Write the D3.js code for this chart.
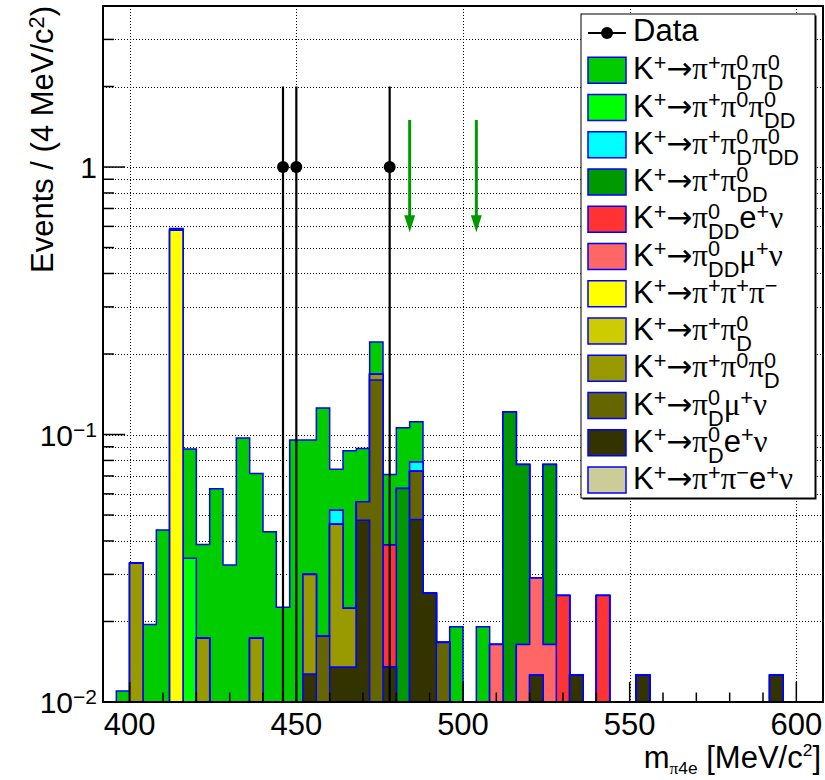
<!DOCTYPE html>
<html><head><meta charset="utf-8">
<script src="https://cdn.jsdelivr.net/npm/d3@7"></script>
<style>body{margin:0;background:#fff}svg{display:block}text{white-space:pre}</style>
</head><body>
<svg id="c" width="825" height="780"></svg>
<script>
// ---------- data ----------
const binWidth = 4;
const xMin = 392, xMax = 608;
const yMin = 0.01, yMax = 4;
const binLow = d3.range(xMin, xMax, binWidth);

// per-component contributions (bin lower edge [MeV/c2], events)
const pipi0Dpi0D  = [[396,0.011],[404,0.0195],[408,0.044],[412,0.009],[416,0.0538],[420,0.0215],[424,0.0627],[428,0.0325],[432,0.0971],[436,0.0542],[440,0.0433],[444,0.0226],[448,0.0953],[452,0.0653],[456,0.108],[460,0.0221],[464,0.0645],[468,0.0327],[472,0.054],[476,0.0323],[480,0.043],[484,0.0325],[496,0.0191],[504,0.0191]];
const pipi0pi0DD  = [[416,0.0345]];
const pipi0Dpi0DD = [[460,0.0059],[484,0.0061]];
const pipi0DD     = [[480,0.0629],[512,0.1215],[516,0.0608],[524,0.0608]];
const pi0DDenu    = [[476,0.0251],[528,0.025],[540,0.025]];
const pi0DDmunu   = [[508,0.0164],[516,0.0164],[520,0.0165],[524,0.0164]];
const pipipi      = [[412,0.58]];
const pipi0D      = [];
const pipi0pi0D   = [[400,0.033],[420,0.0173],[436,0.0173],[452,0.0173],[460,0.0327],[464,0.0089],[472,0.008]];
const pi0Dmunu    = [[456,0.0176],[468,0.0082],[472,0.160],[484,0.0248],[492,0.0167]];
const pi0Denu     = [[452,0.0127],[460,0.0135],[464,0.0135],[468,0.0478],[476,0.0135],[484,0.0481],[488,0.0255],[520,0.0126],[532,0.0126],[552,0.0126],[592,0.0126]];
const pipienu     = [];

// legend order (top to bottom)
const legendLabels = [
  "K^{+}→π^{+}π^{0}_{D}π^{0}_{D}",
  "K^{+}→π^{+}π^{0}π^{0}_{DD}",
  "K^{+}→π^{+}π^{0}_{D}π^{0}_{DD}",
  "K^{+}→π^{+}π^{0}_{DD}",
  "K^{+}→π^{0}_{DD}e^{+}ν",
  "K^{+}→π^{0}_{DD}μ^{+}ν",
  "K^{+}→π^{+}π^{+}π^{−}",
  "K^{+}→π^{+}π^{0}_{D}",
  "K^{+}→π^{+}π^{0}π^{0}_{D}",
  "K^{+}→π^{0}_{D}μ^{+}ν",
  "K^{+}→π^{0}_{D}e^{+}ν",
  "K^{+}→π^{+}π^{−}e^{+}ν"
];
const legendColors = ["#00cc00","#00ff00","#00ffff","#009900","#ff3333","#ff6666","#ffff00","#cccc00","#999900","#666600","#333300","#cccc99"];
const legendSeries = [pipi0Dpi0D,pipi0pi0DD,pipi0Dpi0DD,pipi0DD,pi0DDenu,pi0DDmunu,pipipi,pipi0D,pipi0pi0D,pi0Dmunu,pi0Denu,pipienu];

// data points
const dataX = [446, 450, 478];
const dataY = [1, 1, 1];
const dataErr = [1, 1, 1];

// cut arrows
const arrowX = [484, 504];
const arrowFrom = 1.5, arrowTo = 0.57;

const xTicksMajor = [400,450,500,550,600];
const xTitle = "m_{π4e} [MeV/c^{2}]";
const yTitle = "Events / (4 MeV/c^{2})";

// ---------- drawing ----------
const SANS = "'Liberation Sans', Arial, Helvetica, sans-serif";
const SERIF = "'Liberation Serif', 'Times New Roman', serif";
const ARROWF = "'DejaVu Sans', sans-serif";
const svg = d3.select("#c");
const L = 103, R = 823, T = 6, B = 702;
const x = d3.scaleLinear().domain([xMin, xMax]).range([L, R]);
const y = d3.scaleLog().domain([yMin, yMax]).range([B, T]).clamp(true);
const yv = v => v > 0 ? y(v) : B;
const crisp = v => Math.round(v) + 0.5;

svg.append("defs").append("clipPath").attr("id","clip")
  .append("rect").attr("x",L).attr("y",T).attr("width",R-L).attr("height",B-T);

// gridlines
const grid = svg.append("g").attr("stroke","#000").attr("stroke-width",1).attr("stroke-dasharray","1,2");
const yGridVals = [];
[0.01,0.1,1].forEach(d => { for (let k=1;k<=9;k++){ const v=d*k; if (v>yMin*1.0001 && v<=yMax*1.0001) yGridVals.push(v);} });
yGridVals.forEach(v => grid.append("line").attr("x1",L).attr("x2",R).attr("y1",crisp(y(v))).attr("y2",crisp(y(v))));
xTicksMajor.forEach(v => grid.append("line").attr("x1",crisp(x(v))).attr("x2",crisp(x(v))).attr("y1",T).attr("y2",B));

// stacked histograms
const stackOrder = legendLabels.map((l,i)=>i).reverse(); // bottom -> top
const rows = binLow.map(b => {
  const r = {bin:b};
  legendSeries.forEach((s,i) => { const f = s.find(p => p[0]===b); r["s"+i] = f ? f[1] : 0; });
  return r;
});
const stacked = d3.stack().keys(stackOrder.map(i=>"s"+i))(rows);
const hg = svg.append("g").attr("clip-path","url(#clip)");
for (let li = stacked.length-1; li >= 0; li--) {
  const layer = stacked[li];
  const idx = +layer.key.slice(1);
  const tops = layer.map(d => d[1]);
  const first = tops.findIndex(v => v > 0);
  if (first < 0) continue;
  let p = `M${x(binLow[first])},${B}`;
  for (let i = first; i < binLow.length; i++) {
    const yy = yv(tops[i]);
    p += `L${x(binLow[i])},${yy}L${x(binLow[i]+binWidth)},${yy}`;
  }
  p += `L${x(xMax)},${B}Z`;
  hg.append("path").attr("d",p).attr("fill",legendColors[idx]).attr("stroke","#0000ff").attr("stroke-width",1.5).attr("stroke-linejoin","miter");
}

// frame
svg.append("rect").attr("x",L).attr("y",T).attr("width",R-L).attr("height",B-T).attr("fill","none").attr("stroke","#000").attr("stroke-width",2);

// ticks
const tk = svg.append("g").attr("stroke","#000").attr("stroke-width",1.5);
d3.range(400, 601, 10).forEach(v => {
  const major = v % 50 === 0;
  tk.append("line").attr("x1",x(v)).attr("x2",x(v)).attr("y1",B).attr("y2",B-(major?20:9.5));
});
[0.01,0.1,1].forEach(d => { for (let k=1;k<=9;k++){ const v=d*k; if (v<yMin*0.999||v>yMax*1.0001) continue;
  tk.append("line").attr("x1",L).attr("x2",L+(k===1?22:11)).attr("y1",y(v)).attr("y2",y(v)); } });

// latex-ish text renderer
const fontOf = c => "πμν".includes(c) ? SERIF : (c === "→" ? ARROWF : SANS);
function run(g, txt, x0, y0, size) {
  let xx = x0; let buf = ""; let fam = null;
  const flush = () => {
    if (!buf) return;
    const el = g.append("text").attr("x",xx).attr("y",y0).attr("font-size",size)
      .attr("xml:space","preserve").attr("font-family", fam).attr("fill","#000").text(buf);
    xx += el.node().getComputedTextLength(); buf = "";
  };
  for (const c of txt) {
    const f = fontOf(c);
    if (fam !== null && f !== fam) flush();
    fam = f; buf += c;
  }
  flush();
  return xx - x0;
}
function latex(parent, str, fs, o = {}) {
  const sc = o.scale || 0.7, up = o.up || 0.30, dn = o.dn || 0.36;
  const g = parent.append("g");
  const toks = []; let i = 0;
  const chars = Array.from(str);
  while (i < chars.length) {
    const c = chars[i];
    if ((c==='^'||c==='_') && chars[i+1]==='{') {
      let j = i+2; let content = "";
      while (chars[j] !== '}') { content += chars[j]; j++; }
      toks[toks.length-1][c==='^'?'sup':'sub'] = content;
      i = j+1; continue;
    }
    const prev = toks[toks.length-1];
    if (prev && prev.sup===undefined && prev.sub===undefined) prev.t += c; else toks.push({t:c});
    i++;
  }
  let xx = 0;
  for (const t of toks) {
    xx += run(g, t.t, xx, 0, fs);
    let w = 0;
    if (t.sup !== undefined) w = Math.max(w, run(g, t.sup, xx, -fs*up, fs*sc));
    if (t.sub !== undefined) w = Math.max(w, run(g, t.sub, xx, fs*dn, fs*sc));
    xx += w;
  }
  return {g, w: xx};
}

// x tick labels
xTicksMajor.forEach(v => {
  svg.append("text").attr("x",x(v)).attr("y",735).attr("text-anchor","middle")
    .attr("font-family",SANS).attr("font-size",31).text(v);
});
// y tick labels
[[1,"1"],[0.1,"10^{−1}"],[0.01,"10^{−2}"]].forEach(([v,s]) => {
  const r = latex(svg, s, 30);
  r.g.attr("transform",`translate(${97-r.w},${y(v)+11})`);
});
// axis titles
{ const r = latex(svg, xTitle, 31, {scale:0.56, up:0.38, dn:0.22}); r.g.attr("transform",`translate(${821-r.w},767.5)`); }
{ const r = latex(svg, yTitle, 31); r.g.attr("transform",`translate(53,${T+r.w}) rotate(-90)`); }

// data points
const dg = svg.append("g").attr("clip-path","url(#clip)");
dataX.forEach((dx,i) => {
  const cx = x(dx);
  dg.append("line").attr("x1",cx).attr("x2",cx).attr("y1",yv(dataY[i]+dataErr[i])).attr("y2",yv(dataY[i]-dataErr[i]))
    .attr("stroke","#000").attr("stroke-width",2.2);
  dg.append("circle").attr("cx",cx).attr("cy",y(dataY[i])).attr("r",6).attr("fill","#000");
});

// arrows
arrowX.forEach(ax => {
  const cx = x(ax), y0 = y(arrowFrom), y1 = y(arrowTo);
  svg.append("line").attr("x1",cx).attr("x2",cx).attr("y1",y0).attr("y2",y1-14)
    .attr("stroke","#009900").attr("stroke-width",3);
  svg.append("path").attr("d",`M${cx-5.5},${y1-17}L${cx+5.5},${y1-17}L${cx},${y1}Z`).attr("fill","#009900");
});

// legend
const lg = svg.append("g");
const LX = 581, LY = 14, LW = 234, LH = 484;
lg.append("rect").attr("x",LX+1.5).attr("y",LY+1.5).attr("width",LW).attr("height",LH).attr("fill","#000");
lg.append("rect").attr("x",LX).attr("y",LY).attr("width",LW).attr("height",LH).attr("fill","#fff").attr("stroke","#000").attr("stroke-width",1);
const rowY = i => 33 + 37.25*i;
lg.append("line").attr("x1",588).attr("x2",626).attr("y1",rowY(0)).attr("y2",rowY(0)).attr("stroke","#000").attr("stroke-width",2);
lg.append("circle").attr("cx",607).attr("cy",rowY(0)).attr("r",6).attr("fill","#000");
{ const r = latex(lg, "Data", 31); r.g.attr("transform",`translate(633,${rowY(0)+7.5})`); }
legendLabels.forEach((lab,i) => {
  const cy = rowY(i+1);
  lg.append("rect").attr("x",588).attr("y",cy-13).attr("width",38).attr("height",26)
    .attr("fill",legendColors[i]).attr("stroke","#0000ff").attr("stroke-width",1.5);
  const r = latex(lg, lab, 31);
  r.g.attr("transform",`translate(633,${cy+9})`);
});
</script>
</body></html>
